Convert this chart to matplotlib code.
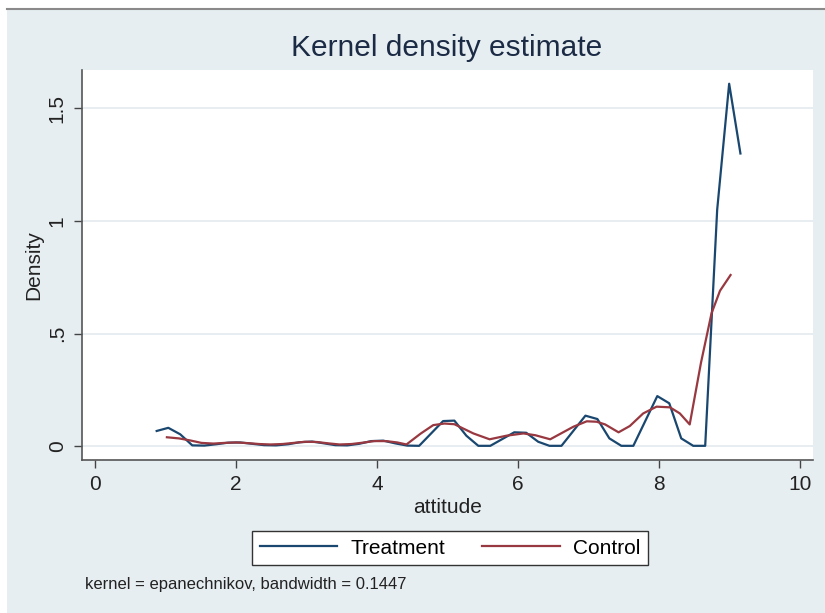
import numpy as np
import matplotlib.pyplot as plt
from matplotlib.patches import Rectangle
from matplotlib.lines import Line2D

plt.rcParams['font.family'] = ['Liberation Sans', 'DejaVu Sans']

# Kernel density estimates (vertices of the polylines)
treatment_x = [0.875, 1.04, 1.21, 1.38, 1.55, 1.72, 1.89, 2.06, 2.23, 2.40, 2.57, 2.74,
               2.91, 3.08, 3.25, 3.41, 3.58, 3.75, 3.92, 4.09, 4.26, 4.43, 4.60, 4.94,
               5.10, 5.27, 5.44, 5.61, 5.95, 6.12, 6.29, 6.45, 6.62, 6.96, 7.13, 7.30,
               7.47, 7.64, 7.98, 8.15, 8.32, 8.49, 8.66, 8.83, 9.00, 9.16]
treatment_y = [0.067, 0.081, 0.052, 0.003, 0.002, 0.008, 0.015, 0.016, 0.010, 0.004, 0.003, 0.008,
               0.017, 0.020, 0.012, 0.004, 0.003, 0.010, 0.022, 0.024, 0.012, 0.002, 0.001, 0.111,
               0.113, 0.046, 0.001, 0.001, 0.061, 0.059, 0.019, 0.001, 0.001, 0.135, 0.120, 0.034,
               0.001, 0.001, 0.222, 0.190, 0.034, 0.001, 0.001, 1.05, 1.61, 1.30]

control_x = [1.02, 1.19, 1.35, 1.51, 1.68, 1.84, 2.00, 2.17, 2.33, 2.49, 2.66, 2.82,
             2.98, 3.15, 3.31, 3.47, 3.64, 3.80, 3.96, 4.13, 4.29, 4.42, 4.62, 4.80,
             4.96, 5.10, 5.37, 5.60, 5.84, 6.08, 6.25, 6.46, 6.79, 6.98, 7.12, 7.24,
             7.43, 7.59, 7.78, 7.97, 8.16, 8.30, 8.44, 8.60, 8.75, 8.87, 9.02]
control_y = [0.039, 0.034, 0.025, 0.014, 0.011, 0.014, 0.016, 0.013, 0.009, 0.007, 0.009, 0.014,
             0.019, 0.018, 0.012, 0.007, 0.009, 0.015, 0.022, 0.022, 0.016, 0.007, 0.055, 0.093,
             0.100, 0.097, 0.056, 0.030, 0.046, 0.056, 0.048, 0.030, 0.086, 0.110, 0.108, 0.096,
             0.061, 0.089, 0.145, 0.175, 0.172, 0.145, 0.096, 0.37, 0.59, 0.69, 0.76]

x_ticks = [0, 2, 4, 6, 8, 10]
y_ticks = [0, 0.5, 1, 1.5]
y_tick_labels = ['0', '.5', '1', '1.5']

navy = '#1a476f'
maroon = '#983840'
bg = '#e7eef1'

fig = plt.figure(figsize=(8.25, 6.13), dpi=100, facecolor='white')

# Stata style graph region with a thin gray rule on top (kept behind the axes)
fig.patches.append(Rectangle((7 / 825, 0), 1, 1 - 10 / 613, transform=fig.transFigure,
                             facecolor=bg, edgecolor='none', zorder=-10))
fig.lines.append(Line2D([7 / 825, 1], [1 - 9 / 613, 1 - 9 / 613], transform=fig.transFigure,
                        color='#8a8a8a', lw=1.5, zorder=-5))

ax = fig.add_axes([82 / 825, 1 - 460 / 613, (813 - 82) / 825, (460 - 70) / 613])
ax.set_facecolor('white')

ax.plot(treatment_x, treatment_y, color=navy, lw=1.6, label='Treatment')
ax.plot(control_x, control_y, color=maroon, lw=1.6, label='Control')

ax.set_xlim(-0.185, 10.19)
ax.set_ylim(-0.062, 1.671)
ax.set_xticks(x_ticks)
ax.set_yticks(y_ticks)
ax.set_yticklabels(y_tick_labels, rotation=90, va='center')
ax.tick_params(labelsize=15, colors='#222222', length=6, width=1, pad=5)
ax.tick_params(axis='both', color='#444444')

ax.grid(axis='y', color='#e3eaee', lw=1.2)
ax.set_axisbelow(True)
for side in ['top', 'right']:
    ax.spines[side].set_visible(False)
for side in ['left', 'bottom']:
    ax.spines[side].set_color('#555555')
    ax.spines[side].set_linewidth(1.2)

ax.set_xlabel('attitude', fontsize=15, color='#222222', labelpad=3)
ax.set_ylabel('Density', fontsize=15, color='#222222', labelpad=3)

fig.text(447 / 825, 1 - 48 / 613, 'Kernel density estimate', fontsize=21.5,
         color='#1c2b45', ha='center', va='center')

leg = fig.legend(loc='center', bbox_to_anchor=(450 / 825, 1 - 548 / 613), ncol=2,
                 fontsize=15, frameon=True, fancybox=False, framealpha=1,
                 handlelength=3.7, columnspacing=1.8, borderpad=0.35, handletextpad=0.65)
leg.get_frame().set_edgecolor('#333333')
leg.get_frame().set_facecolor('white')
leg.get_frame().set_linewidth(1.0)

fig.text(85 / 825, 1 - 585 / 613, 'kernel = epanechnikov, bandwidth = 0.1447',
         fontsize=12, color='#222222', ha='left', va='center')

fig.savefig('out.png', dpi=100, facecolor=fig.get_facecolor())
